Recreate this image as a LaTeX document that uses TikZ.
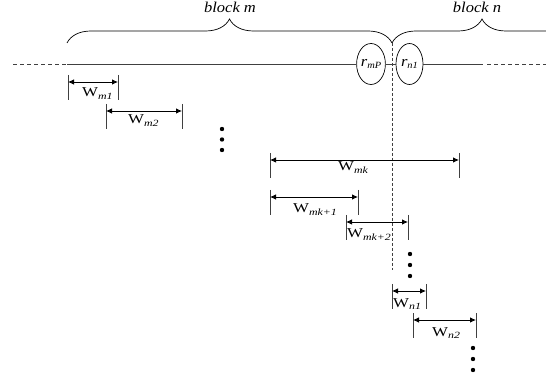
\documentclass[tikz,border=0pt]{standalone}
\usepackage{fontspec}
\setmainfont{Liberation Serif}
\newfontfamily\wfont[FakeStretch=1.25]{Liberation Serif}
\newfontfamily\lblfont[FakeStretch=1.1]{Liberation Serif}
\usetikzlibrary{
  arrows.meta,
  shapes.geometric,
  decorations.pathreplacing
}
\newcommand{\wsub}[1]{\raisebox{-2.8pt}{\fontsize{9.5}{10}\selectfont\itshape #1}}
\tikzset{
  mainline/.style={draw=black!75, line width=0.8pt},
  dashline/.style={draw=black!75, line width=0.8pt, dash pattern=on 4pt off 3pt},
  divider/.style={draw=black!75, line width=0.7pt, dash pattern=on 3pt off 2pt},
  blockbrace/.style={draw, decorate, decoration={brace, amplitude=24pt}, line width=0.7pt},
  rnode/.style={
    ellipse, draw, line width=0.7pt, minimum width=27pt, minimum height=41pt,
    inner sep=0pt, font=\lblfont\fontsize{15}{17}\selectfont\itshape
  },
  dimline/.style={{Latex[length=6pt,width=5.5pt]}-{Latex[length=6pt,width=5.5pt]}, line width=0.8pt},
  tickline/.style={draw=black!75, line width=0.6pt},
  wlabel/.style={font=\wfont\fontsize{13.5}{15}\selectfont, inner sep=0pt, anchor=base west},
  blocklabel/.style={font=\lblfont\fontsize{15}{17}\selectfont\itshape, inner sep=0pt, anchor=base},
  dotnode/.style={circle, fill, inner sep=0pt, minimum size=4.4pt},
}

\begin{document}
\begin{tikzpicture}[x=1pt, y=-1pt]

  \useasboundingbox (0,0) rectangle (546,379);
  \clip (0,0) rectangle (546,379);

  %% -- blocks and line --
  \coordinate (lstart) at (13,64);
  \coordinate (solidl) at (67,64);
  \coordinate (solidr) at (483,64);
  \coordinate (dashr)  at (487,64);
  \coordinate (lend)   at (546,64);
  \node[rnode] (rmp) at (371,64) {r\wsub{mP}};
  \node[rnode] (rn1) at (409.5,64) {r\wsub{n1}};

  \draw[dashline] (lstart) -- (solidl);
  \draw[mainline] (solidl) -- (rmp.west);
  \draw[mainline] (rmp.east) -- (rn1.west);
  \draw[mainline] (rn1.east) -- (solidr);
  \draw[dashline] (dashr) -- (lend);

  %% -- braces --
  \coordinate (bracem) at (67,43);
  \coordinate (divtop) at (392,43);
  \coordinate (bracen) at (572,43);
  \coordinate (divbot) at (392,270);
  \draw[blockbrace] (bracem) -- (divtop);
  \draw[blockbrace] (divtop) -- (bracen);
  \node[blocklabel] (blockm) at (230,13) {block m};
  \node[blocklabel] (blockn) at (477,13) {block n};
  \draw[divider] (divtop) -- (divbot);

  %% -- W_m1, W_m2 --
  \coordinate (m1a) at (68,82);
  \coordinate (m1b) at (118,82);
  \draw[tickline] (m1a) ++(0,-7) -- ++(0,25);
  \draw[tickline] (m1b) ++(0,-7) -- ++(0,25);
  \draw[dimline] (m1a) -- (m1b);
  \node[wlabel] (wm1) at (82,97) {W\wsub{m1}};

  \coordinate (m2a) at (106,111);
  \coordinate (m2b) at (182,111);
  \draw[tickline] (m2a) ++(0,-7) -- ++(0,25);
  \draw[tickline] (m2b) ++(0,-7) -- ++(0,25);
  \draw[dimline] (m2a) -- (m2b);
  \node[wlabel] (wm2) at (128,124) {W\wsub{m2}};

  \node[dotnode] (dota1) at (222,129) {};
  \node[dotnode] (dota2) at (222,139.5) {};
  \node[dotnode] (dota3) at (222,150) {};

  %% -- W_mk, W_mk+1, W_mk+2 --
  \coordinate (mka) at (270,160);
  \coordinate (mkb) at (459,160);
  \draw[tickline] (mka) ++(0,-7) -- ++(0,25);
  \draw[tickline] (mkb) ++(0,-7) -- ++(0,25);
  \draw[dimline] (mka) -- (mkb);
  \node[wlabel] (wmk) at (338,171) {W\wsub{mk}};

  \coordinate (mk1a) at (270,197);
  \coordinate (mk1b) at (358,197);
  \draw[tickline] (mk1a) ++(0,-7) -- ++(0,25);
  \draw[tickline] (mk1b) ++(0,-7) -- ++(0,25);
  \draw[dimline] (mk1a) -- (mk1b);
  \node[wlabel] (wmk1) at (293,213) {W\wsub{mk+1}};

  \coordinate (mk2a) at (346,222);
  \coordinate (mk2b) at (408,222);
  \draw[tickline] (mk2a) ++(0,-7) -- ++(0,25);
  \draw[tickline] (mk2b) ++(0,-7) -- ++(0,25);
  \draw[dimline] (mk2a) -- (mk2b);
  \node[wlabel] (wmk2) at (347,238) {W\wsub{mk+2}};

  \node[dotnode] (dotb1) at (410,254) {};
  \node[dotnode] (dotb2) at (410,265) {};
  \node[dotnode] (dotb3) at (410,276) {};

  %% -- W_n1, W_n2 --
  \coordinate (n1a) at (392,291);
  \coordinate (n1b) at (426,291);
  \draw[tickline] (n1a) ++(0,-7) -- ++(0,25);
  \draw[tickline] (n1b) ++(0,-7) -- ++(0,25);
  \draw[dimline] (n1a) -- (n1b);
  \node[wlabel] (wn1) at (393,307) {W\wsub{n1}};

  \coordinate (n2a) at (413,320);
  \coordinate (n2b) at (476,320);
  \draw[tickline] (n2a) ++(0,-7) -- ++(0,25);
  \draw[tickline] (n2b) ++(0,-7) -- ++(0,25);
  \draw[dimline] (n2a) -- (n2b);
  \node[wlabel] (wn2) at (432,336) {W\wsub{n2}};

  \node[dotnode] (dotc1) at (473,348) {};
  \node[dotnode] (dotc2) at (473,359) {};
  \node[dotnode] (dotc3) at (473,370) {};

\end{tikzpicture}
\end{document}
